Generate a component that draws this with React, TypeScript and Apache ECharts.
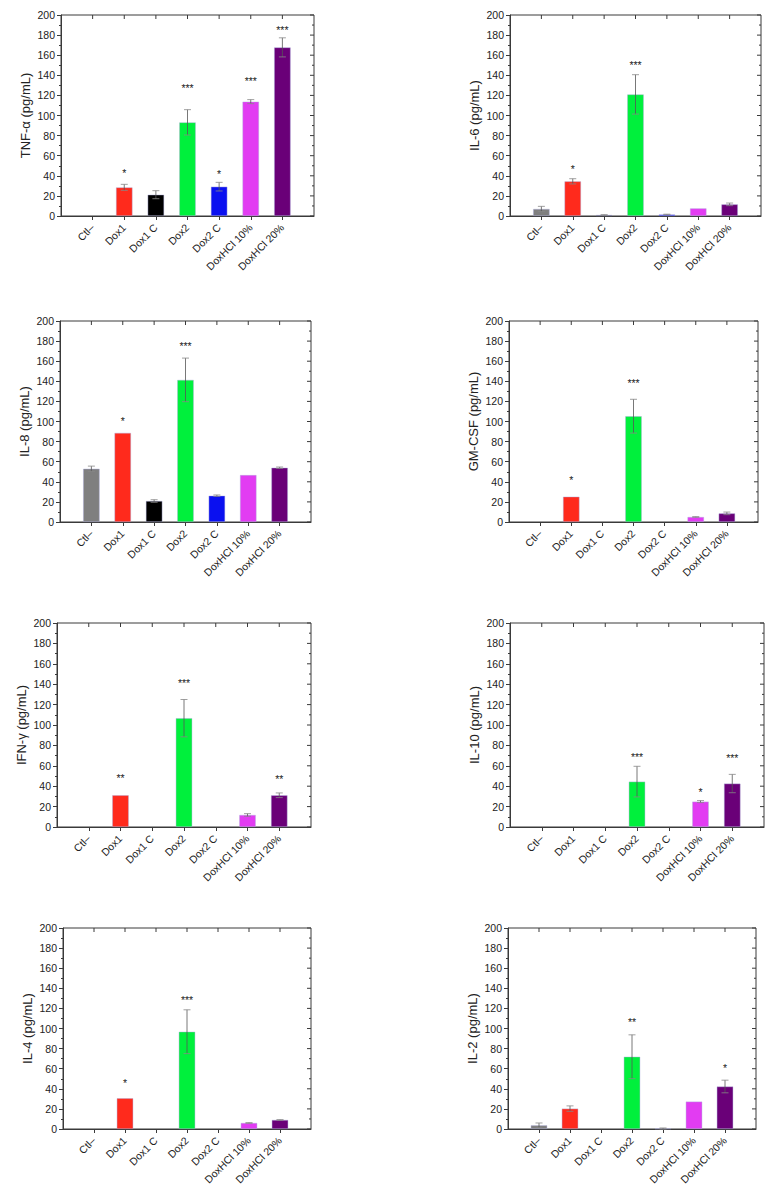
import React, { useEffect, useRef } from "react";
import * as echarts from "echarts";

const categories = ["Ctl–", "Dox1", "Dox1 C", "Dox2", "Dox2 C", "DoxHCl 10%", "DoxHCl 20%"];
const barColors = ["#7f7f7f", "#ff2a1c", "#000000", "#00f03c", "#0a10f0", "#e23cf2", "#6a0078"];

const panelNames = ["TNF-α (pg/mL)", "IL-6 (pg/mL)", "IL-8 (pg/mL)", "GM-CSF (pg/mL)", "IFN-γ (pg/mL)", "IL-10 (pg/mL)", "IL-4 (pg/mL)", "IL-2 (pg/mL)"];
const yTicks = [0, 20, 40, 60, 80, 100, 120, 140, 160, 180, 200];

const tnfValues = [0, 28.5, 21.2, 93.2, 29.2, 113.8, 167.8];
const tnfErrors = [0, 3, 4, 12.6, 4.3, 2, 9.5];
const tnfStars = ["", "*", "", "***", "*", "***", "***"];
const tnfStarY = [0, 45.4, 0, 130, 45, 137, 187.7];

const il6Values = [7, 34.5, 1, 121, 1.5, 7.6, 11.6];
const il6Errors = [2.6, 2.6, 0.3, 19.6, 0.3, 0, 1.3];
const il6Stars = ["", "*", "", "***", "", "", ""];
const il6StarY = [0, 49.8, 0, 153, 0, 0, 0];

const il8Values = [53, 88.7, 20.9, 141.4, 26.2, 46.7, 54];
const il8Errors = [2.6, 0, 1.3, 21.7, 0.7, 0, 0.7];
const il8Stars = ["", "*", "", "***", "", "", ""];
const il8StarY = [0, 103.3, 0, 178.1, 0, 0, 0];

const gmcsfValues = [0, 25.2, 0, 105.3, 0, 5, 8.6];
const gmcsfErrors = [0, 0, 0, 16.8, 0, 0.3, 1.3];
const gmcsfStars = ["", "*", "", "***", "", "", ""];
const gmcsfStarY = [0, 44.4, 0, 141, 0, 0, 0];

const ifnValues = [0, 31.1, 0, 106.7, 0, 11.8, 31.1];
const ifnErrors = [0, 0, 0, 18.3, 0, 1.3, 2.3];
const ifnStars = ["", "**", "", "***", "", "", "**"];
const ifnStarY = [0, 51.4, 0, 143.7, 0, 0, 49.7];

const il10Values = [0, 0, 0, 44.5, 0, 24.9, 42.6];
const il10Errors = [0, 0, 0, 15, 0, 1, 9];
const il10Stars = ["", "", "", "***", "", "*", "***"];
const il10StarY = [0, 0, 0, 71.7, 0, 37.3, 70.4];

const il4Values = [0, 30.6, 0, 96.8, 0, 6, 9];
const il4Errors = [0, 0, 0, 21.8, 0, 0.3, 0.3];
const il4Stars = ["", "*", "", "***", "", "", ""];
const il4StarY = [0, 48.6, 0, 131.4, 0, 0, 0];

const il2Values = [3.7, 20.3, 0, 71.9, 0.5, 27.3, 42.3];
const il2Errors = [2.3, 2.7, 0, 21.8, 0.5, 0, 6.3];
const il2Stars = ["", "", "", "**", "", "", "*"];
const il2StarY = [0, 0, 0, 109.5, 0, 0, 63.9];

const allValues = [tnfValues, il6Values, il8Values, gmcsfValues, ifnValues, il10Values, il4Values, il2Values];
const allErrors = [tnfErrors, il6Errors, il8Errors, gmcsfErrors, ifnErrors, il10Errors, il4Errors, il2Errors];
const allStars = [tnfStars, il6Stars, il8Stars, gmcsfStars, ifnStars, il10Stars, il4Stars, il2Stars];
const allStarY = [tnfStarY, il6StarY, il8StarY, gmcsfStarY, ifnStarY, il10StarY, il4StarY, il2StarY];

const layout = [
  { left: 61, top: 15, width: 253, height: 201 },
  { left: 510, top: 15, width: 251, height: 201 },
  { left: 60, top: 321, width: 251, height: 201 },
  { left: 509, top: 321, width: 249, height: 201 },
  { left: 57, top: 623, width: 254, height: 204 },
  { left: 510, top: 623, width: 254, height: 204 },
  { left: 63, top: 928, width: 248, height: 201 },
  { left: 508, top: 928, width: 248, height: 201 },
];

const FONT = "'Liberation Sans', Arial, sans-serif";
const AXIS_COLOR = "#3a3a3a";
const TEXT_COLOR = "#222";
const X_MIN = 0;
const X_MAX = categories.length + 1;
const Y_MIN = 0;
const Y_MAX = 200;

function buildOption() {
  const catPos = categories.map((_, i) => i + 1);
  const minorY: number[] = [];
  for (let k = 0; k < yTicks.length - 1; k++) minorY.push((yTicks[k] + yTicks[k + 1]) / 2);
  const grid: any[] = [];
  const xAxis: any[] = [];
  const yAxis: any[] = [];
  const series: any[] = [];
  layout.forEach((g, p) => {
    grid.push({ ...g, containLabel: false, show: true, borderColor: AXIS_COLOR, borderWidth: 1, backgroundColor: "transparent" });
    const axisLine = { show: true, onZero: false, lineStyle: { color: AXIS_COLOR, width: 1 } };
    xAxis.push({
      type: "value", gridIndex: p, min: X_MIN, max: X_MAX, interval: 1, position: "bottom",
      axisLine, splitLine: { show: false },
      axisTick: { show: true, inside: false, length: 4, customValues: catPos, lineStyle: { color: AXIS_COLOR } },
      axisLabel: {
        show: true, customValues: catPos, rotate: 45, margin: 10, fontSize: 10.5, fontFamily: FONT, color: TEXT_COLOR,
        formatter: (v: number) => categories[Math.round(v) - 1] ?? "",
      },
    });
    yAxis.push({
      type: "value", gridIndex: p, min: Y_MIN, max: Y_MAX, interval: 20, position: "left",
      axisLine, splitLine: { show: false },
      axisTick: { show: true, inside: false, length: 4, lineStyle: { color: AXIS_COLOR } },
      minorTick: { show: true, splitNumber: 2, length: 2, lineStyle: { color: AXIS_COLOR } },
      axisLabel: { show: true, margin: 6, fontSize: 10.5, fontFamily: FONT, color: TEXT_COLOR, customValues: yTicks },
      name: panelNames[p], nameLocation: "middle", nameGap: 29, nameRotate: 90,
      nameTextStyle: { fontSize: 13, fontFamily: FONT, color: TEXT_COLOR },
    });
    const values = allValues[p];
    const errors = allErrors[p];
    series.push({
      type: "bar", xAxisIndex: p, yAxisIndex: p, barWidth: 16.5,
      data: values.map((v, j) => ({
        value: [j + 1, v],
        itemStyle: { color: barColors[j], borderColor: "rgba(170,170,220,0.7)", borderWidth: v > 0 ? 0.6 : 0 },
      })),
    });
    series.push({
      type: "custom", xAxisIndex: p, yAxisIndex: p, z: 5,
      data: values.map((v, j) => [j + 1, v, errors[j]]).filter((d) => d[2] > 0),
      renderItem: (params: any, api: any) => {
        const x = api.value(0);
        const v = api.value(1);
        const e = api.value(2);
        const top = api.coord([x, v + e]);
        const bot = api.coord([x, Math.max(0, v - e)]);
        const hw = 3.5;
        return {
          type: "group",
          children: [
            { type: "line", shape: { x1: top[0], y1: top[1], x2: bot[0], y2: bot[1] }, style: { stroke: "#555", lineWidth: 0.8 } },
            { type: "line", shape: { x1: top[0] - hw, y1: top[1], x2: top[0] + hw, y2: top[1] }, style: { stroke: "#888", lineWidth: 0.8 } },
            { type: "line", shape: { x1: bot[0] - hw, y1: bot[1], x2: bot[0] + hw, y2: bot[1] }, style: { stroke: "#888", lineWidth: 0.8 } },
          ],
        };
      },
    });
    const stars = allStars[p];
    const starY = allStarY[p];
    series.push({
      type: "custom", xAxisIndex: p, yAxisIndex: p, z: 6,
      data: stars.map((s, j) => [j + 1, starY[j], j]).filter((d) => stars[d[2]] !== ""),
      renderItem: (params: any, api: any) => {
        const pt = api.coord([api.value(0), api.value(1)]);
        return {
          type: "text", x: pt[0], y: pt[1] + 3,
          style: { text: stars[api.value(2)], fill: "#222", font: `10.5px ${FONT}`, textAlign: "center", textVerticalAlign: "middle" },
        };
      },
    });
    // mirror ticks on top (categories) and right (major + minor), pointing inward
    series.push({
      type: "custom", xAxisIndex: p, yAxisIndex: p, z: 7, silent: true, clip: false,
      data: [[X_MAX, Y_MAX]],
      renderItem: (params: any, api: any) => {
        const children: any[] = [];
        catPos.forEach((c) => {
          const pt = api.coord([c, Y_MAX]);
          children.push({ type: "line", shape: { x1: pt[0], y1: pt[1], x2: pt[0], y2: pt[1] + 4 }, style: { stroke: AXIS_COLOR, lineWidth: 1 } });
        });
        yTicks.forEach((y) => {
          const pt = api.coord([X_MAX, y]);
          children.push({ type: "line", shape: { x1: pt[0], y1: pt[1], x2: pt[0] - 4, y2: pt[1] }, style: { stroke: AXIS_COLOR, lineWidth: 1 } });
        });
        minorY.forEach((y) => {
          const pt = api.coord([X_MAX, y]);
          children.push({ type: "line", shape: { x1: pt[0], y1: pt[1], x2: pt[0] - 2, y2: pt[1] }, style: { stroke: AXIS_COLOR, lineWidth: 1 } });
        });
        return { type: "group", children };
      },
    });
  });
  return { animation: false, backgroundColor: "#ffffff", grid, xAxis, yAxis, series };
}

export default function App() {
  const ref = useRef<HTMLDivElement>(null);
  useEffect(() => {
    if (!ref.current) return;
    const chart = echarts.init(ref.current, null, { renderer: "svg" });
    chart.setOption(buildOption() as any);
    return () => chart.dispose();
  }, []);
  return <div ref={ref} style={{ position: "fixed", left: 0, top: 0, width: 772, height: 1194 }} />;
}
